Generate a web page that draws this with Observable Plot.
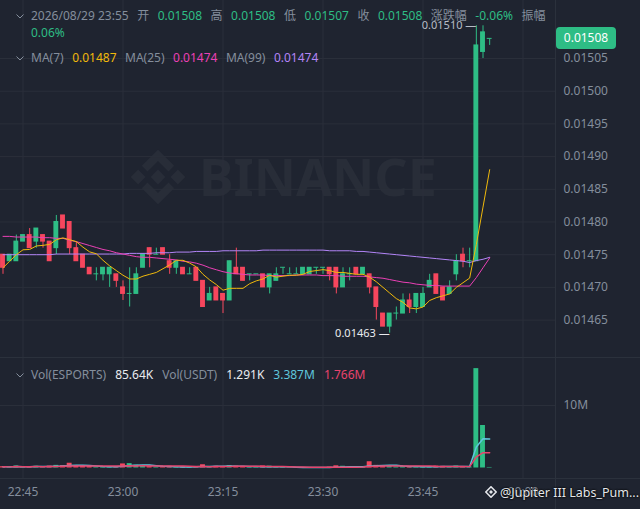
<!DOCTYPE html>
<html><head><meta charset="utf-8">
<script src="https://cdn.jsdelivr.net/npm/d3@7"></script>
<script src="https://cdn.jsdelivr.net/npm/@observablehq/plot@0.6"></script>
<style>
html,body{margin:0;padding:0;background:#1f2430;overflow:hidden}
#wrap{position:relative;width:640px;height:509px;overflow:hidden;background:#1f2430;font-family:"Noto Sans","Noto Sans CJK SC",sans-serif}
.abs{position:absolute}
.row{position:absolute;left:31px;font-size:12px;line-height:16px;white-space:nowrap;color:#848e9c}
.row span{margin-right:8.5px}
.vrow span{margin-right:9px}
.chev{position:absolute;left:16px}
.sepv{position:absolute;left:555px;top:0;width:1px;height:509px;background:#2b313c}
.seph{position:absolute;left:0;width:640px;height:1px;background:#2b313c}
#badge{position:absolute;left:556px;top:27px;width:60px;height:22px;border-radius:4px;background:#2ebd85;color:#fff;font-size:12px;line-height:22px;text-align:center}
#wmk{position:absolute;left:485px;top:485px;font-size:12.5px;line-height:16px;color:#e4e6ea;text-shadow:0 0 2px #000,0 0 2px #000;white-space:nowrap}
</style></head>
<body><div id="wrap">
<svg class="abs" style="left:0;top:0" width="640" height="509">
  <g transform="translate(127,146) scale(0.62)" fill="#282d38">
    <polygon points="50,38 62,50 50,62 38,50"/>
    <polygon points="18,38 30,50 18,62 6,50"/>
    <polygon points="82,38 94,50 82,62 70,50"/>
    <polygon points="50,6 76,32 67,41 50,24 33,41 24,32"/>
    <polygon points="50,94 76,68 67,59 50,76 33,59 24,68"/>
  </g>
  <text x="199" y="196" font-size="52" font-weight="700" fill="#282d38" font-family="Noto Sans, sans-serif">BINANCE</text>
</svg>
<div id="price" class="abs" style="left:0;top:0"></div>
<div id="vol" class="abs" style="left:0;top:357px"></div>
<div class="sepv"></div>
<div class="seph" style="top:357px"></div>
<div class="seph" style="top:478px"></div>
<div id="hdr1" class="row" style="top:8px"></div>
<div id="hdr2" class="row" style="top:25px"></div>
<div id="hdrMA" class="row" style="top:50px"></div>
<div id="hdrVol" class="row vrow" style="top:367px"></div>
<svg class="chev" style="top:14px" width="8" height="5"><polyline points="0.5,0.5 4,4 7.5,0.5" fill="none" stroke="#848e9c" stroke-width="1"/></svg>
<svg class="chev" style="top:56px" width="8" height="5"><polyline points="0.5,0.5 4,4 7.5,0.5" fill="none" stroke="#848e9c" stroke-width="1"/></svg>
<svg class="chev" style="top:373px" width="8" height="5"><polyline points="0.5,0.5 4,4 7.5,0.5" fill="none" stroke="#848e9c" stroke-width="1"/></svg>
<div id="badge"></div>
<div id="wmk"><svg width="12" height="12" style="vertical-align:-1px;margin-right:3px"><polygon points="6,0.8 11.2,6 6,11.2 0.8,6" fill="none" stroke="#e4e6ea" stroke-width="1.6"/><polygon points="6,4 8,6 6,8 4,6" fill="#e4e6ea"/></svg>@Jupiter III Labs_Pum...</div>
</div>
<script>
const times = ["22:42","22:43","22:44","22:45","22:46","22:47","22:48","22:49","22:50","22:51","22:52","22:53","22:54","22:55","22:56","22:57","22:58","22:59","23:00","23:01","23:02","23:03","23:04","23:05","23:06","23:07","23:08","23:09","23:10","23:11","23:12","23:13","23:14","23:15","23:16","23:17","23:18","23:19","23:20","23:21","23:22","23:23","23:24","23:25","23:26","23:27","23:28","23:29","23:30","23:31","23:32","23:33","23:34","23:35","23:36","23:37","23:38","23:39","23:40","23:41","23:42","23:43","23:44","23:45","23:46","23:47","23:48","23:49","23:50","23:51","23:52","23:53","23:54","23:55"];
const open = [0.01475,0.01474,0.01474,0.01477,0.01478,0.01477,0.01478,0.01477,0.01476,0.01481,0.01480,0.01476,0.01475,0.01473,0.01472,0.01472,0.01472,0.01472,0.01470,0.01469,0.01469,0.01473,0.01476,0.01475,0.01476,0.01474,0.01473,0.01473,0.01472,0.01473,0.01471,0.01468,0.01470,0.01469,0.01468,0.01473,0.01473,0.01472,0.01472,0.01472,0.01470,0.01471,0.01473,0.01472,0.01472,0.01472,0.01472,0.01473,0.01473,0.01473,0.01473,0.01470,0.01472,0.01473,0.01472,0.01472,0.01470,0.01466,0.01464,0.01466,0.01466,0.01468,0.01467,0.01467,0.01470,0.01472,0.01470,0.01469,0.01472,0.01475,0.01474,0.01474,0.01506,0.01508];
const high = [0.01475,0.01475,0.01478,0.01478,0.01479,0.01479,0.01478,0.01477,0.01481,0.01481,0.01480,0.01477,0.01475,0.01473,0.01473,0.01473,0.01473,0.01472,0.01471,0.01473,0.01473,0.01475,0.01476,0.01476,0.01476,0.01475,0.01474,0.01473,0.01473,0.01473,0.01471,0.01470,0.01470,0.01469,0.01474,0.01476,0.01473,0.01472,0.01472,0.01472,0.01472,0.01473,0.01473,0.01473,0.01473,0.01473,0.01473,0.01473,0.01473,0.01473,0.01473,0.01473,0.01473,0.01473,0.01473,0.01472,0.01470,0.01466,0.01466,0.01467,0.01469,0.01469,0.01469,0.01470,0.01472,0.01472,0.01470,0.01471,0.01475,0.01476,0.01476,0.01510,0.01510,0.01508];
const low = [0.01472,0.01474,0.01474,0.01477,0.01476,0.01476,0.01476,0.01474,0.01475,0.01479,0.01475,0.01474,0.01473,0.01472,0.01471,0.01471,0.01470,0.01470,0.01468,0.01467,0.01469,0.01473,0.01473,0.01475,0.01475,0.01472,0.01472,0.01472,0.01472,0.01471,0.01467,0.01468,0.01468,0.01466,0.01468,0.01472,0.01471,0.01471,0.01472,0.01470,0.01469,0.01471,0.01472,0.01472,0.01472,0.01472,0.01472,0.01472,0.01472,0.01471,0.01469,0.01470,0.01471,0.01472,0.01472,0.01469,0.01465,0.01464,0.01463,0.01465,0.01466,0.01466,0.01466,0.01467,0.01470,0.01469,0.01468,0.01469,0.01471,0.01473,0.01473,0.01474,0.01505,0.01507];
const close = [0.01473,0.01475,0.01477,0.01478,0.01476,0.01479,0.01477,0.01474,0.01480,0.01479,0.01476,0.01474,0.01473,0.01472,0.01472,0.01473,0.01473,0.01471,0.01469,0.01469,0.01472,0.01475,0.01475,0.01475,0.01475,0.01473,0.01474,0.01472,0.01472,0.01471,0.01467,0.01469,0.01468,0.01468,0.01474,0.01472,0.01471,0.01472,0.01472,0.01470,0.01472,0.01472,0.01473,0.01472,0.01472,0.01473,0.01473,0.01473,0.01473,0.01472,0.01470,0.01472,0.01472,0.01472,0.01473,0.01470,0.01467,0.01464,0.01466,0.01466,0.01468,0.01467,0.01469,0.01469,0.01471,0.01469,0.01468,0.01470,0.01474,0.01474,0.01474,0.01507,0.01509,0.01508];
const volume = [210000,150000,320000,180000,240000,280000,160000,300000,420000,380000,760000,260000,300000,240000,120000,200000,230000,180000,650000,700000,450000,380000,210000,120000,160000,260000,150000,180000,110000,220000,520000,240000,280000,230000,380000,300000,260000,100000,90000,320000,300000,180000,80000,60000,50000,70000,90000,60000,60000,140000,350000,280000,120000,150000,130000,1000000,420000,380000,300000,160000,260000,180000,240000,200000,170000,300000,260000,180000,320000,200000,150000,15900000,6800000,85640];
const ma25 = [0.014778,0.014778,0.014777,0.014777,0.014777,0.014777,0.014776,0.014776,0.014775,0.014775,0.014772,0.014770,0.014767,0.014764,0.014761,0.014758,0.014756,0.014753,0.014751,0.014749,0.014747,0.014746,0.014746,0.014745,0.014744,0.014743,0.014742,0.014740,0.014739,0.014737,0.014734,0.014730,0.014727,0.014724,0.014722,0.014721,0.014720,0.014719,0.014719,0.014719,0.014718,0.014718,0.014718,0.014718,0.014719,0.014719,0.014719,0.014719,0.014718,0.014718,0.014718,0.014717,0.014717,0.014717,0.014717,0.014716,0.014715,0.014714,0.014712,0.014710,0.014708,0.014707,0.014705,0.014704,0.014703,0.014703,0.014702,0.014702,0.014702,0.014702,0.014702,0.014715,0.014730,0.014745];
const ma99 = [0.014750,0.014750,0.014750,0.014750,0.014750,0.014750,0.014750,0.014750,0.014751,0.014751,0.014751,0.014751,0.014751,0.014751,0.014751,0.014751,0.014751,0.014751,0.014751,0.014752,0.014752,0.014752,0.014752,0.014753,0.014753,0.014753,0.014754,0.014754,0.014754,0.014755,0.014755,0.014755,0.014755,0.014756,0.014756,0.014756,0.014756,0.014756,0.014756,0.014757,0.014757,0.014757,0.014757,0.014757,0.014757,0.014757,0.014757,0.014757,0.014757,0.014756,0.014756,0.014756,0.014756,0.014755,0.014755,0.014754,0.014753,0.014752,0.014751,0.014750,0.014749,0.014748,0.014747,0.014746,0.014745,0.014744,0.014743,0.014742,0.014741,0.014740,0.014738,0.014741,0.014743,0.014746];
const priceTicks = [0.01465,0.01470,0.01475,0.01480,0.01485,0.01490,0.01495,0.01500,0.01505];
const timeTickLabels = ["22:45","23:00","23:15","23:30","23:45","00:00"];
const volTicks = [10000000];
const volTickLabels = ["10M"];
const hdrDate = "2026/08/29 23:55";
const hdrLabels = ["开","高","低","收"];
const hdrValues = ["0.01508","0.01508","0.01507","0.01508"];
const hdrChange = ["涨跌幅","-0.06%"];
const hdrAmp = ["振幅","0.06%"];
const maLabels = ["MA(7)","MA(25)","MA(99)"];
const maValues = ["0.01487","0.01474","0.01474"];
const volLabels = ["Vol(ESPORTS)","Vol(USDT)"];
const volValues = ["85.64K","1.291K","3.387M","1.766M"];
const lastPrice = "0.01508";

const green = "#2ebd85", red = "#f6465d", grid = "#2a2f3a", axisCol = "#848e9c";
const maCols = ["#f0b90b","#eb40b5","#b385f8"];
const volMaCols = ["#5fc6dc","#e8436d"];

const toDate = s => { const [h, m] = s.split(":").map(Number); return new Date(Date.UTC(2026, 7, h < 12 ? 30 : 29, h, m)); };
const candles = times.map((s, i) => ({t: toDate(s), open: open[i], high: high[i], low: low[i], close: close[i], vol: volume[i], ma25: ma25[i], ma99: ma99[i]}));
const timeTicks = timeTickLabels.map(toDate);
const timeLabelOf = new Map(timeTicks.map((d, i) => [+d, timeTickLabels[i]]));
const volLabelOf = new Map(volTicks.map((d, i) => [d, volTickLabels[i]]));
const colorOf = d => d.close >= d.open ? green : red;
const half = 22000;
const bx1 = d => new Date(+d.t - half), bx2 = d => new Date(+d.t + half);
const xDomain = [new Date(Date.UTC(2026,7,29,22,41,37,500)), new Date(Date.UTC(2026,7,30,0,4,52,500))];
const hiC = candles.reduce((a, b) => b.high > a.high ? b : a);
const loC = candles.reduce((a, b) => b.low < a.low ? b : a);
const font = "Noto Sans, Noto Sans CJK SC, sans-serif";

const price = Plot.plot({
  width: 640, height: 357, marginTop: 0, marginBottom: 0, marginLeft: 0, marginRight: 85,
  style: {background: "transparent", color: axisCol, fontSize: "12px", fontFamily: font, overflow: "visible"},
  x: {type: "utc", domain: xDomain, axis: null},
  y: {domain: [0.0145928, 0.0151387], axis: null},
  color: {type: "identity"},
  marks: [
    Plot.gridY(priceTicks, {stroke: grid, strokeOpacity: 1}),
    Plot.ruleX(timeTicks, {stroke: grid, strokeOpacity: 1}),
    Plot.axisY(priceTicks, {anchor: "right", tickSize: 0, tickPadding: 8, tickFormat: d => d.toFixed(5), fill: axisCol, fontSize: 12, label: null}),
    Plot.ruleX(candles, {x: "t", y1: "low", y2: "high", stroke: colorOf, strokeWidth: 1}),
    Plot.rect(candles, {x1: bx1, x2: bx2, y1: "open", y2: "close", fill: colorOf, insetTop: -0.5, insetBottom: -0.5}),
    Plot.line(candles, {x: "t", y: "ma99", stroke: maCols[2], strokeWidth: 1}),
    Plot.line(candles, {x: "t", y: "ma25", stroke: maCols[1], strokeWidth: 1}),
    Plot.lineY(candles, Plot.windowY({k: 7, anchor: "end", strict: false}, {x: "t", y: "close", stroke: maCols[0], strokeWidth: 1})),
    Plot.text([hiC], {x: "t", y: "high", text: d => d.high.toFixed(5) + " —", textAnchor: "end", fill: "#b7bdc6", fontSize: 11}),
    Plot.text([loC], {x: "t", y: "low", text: d => d.low.toFixed(5) + " —", textAnchor: "end", fill: "#eaecef", fontSize: 11})
  ]
});
document.getElementById("price").appendChild(price);

const vol = Plot.plot({
  width: 640, height: 152, marginTop: 0, marginBottom: 41.5, marginLeft: 0, marginRight: 85,
  style: {background: "transparent", color: axisCol, fontSize: "12px", fontFamily: font, overflow: "visible"},
  x: {type: "utc", domain: xDomain, axis: null},
  y: {domain: [0, 17680000], axis: null},
  color: {type: "identity"},
  marks: [
    Plot.gridY(volTicks, {stroke: grid, strokeOpacity: 1}),
    Plot.ruleX(timeTicks, {stroke: grid, strokeOpacity: 1, insetBottom: -10.5}),
    Plot.axisY(volTicks, {anchor: "right", tickSize: 0, tickPadding: 8, tickFormat: d => volLabelOf.get(d), fill: axisCol, fontSize: 12, label: null}),
    Plot.axisX(timeTicks, {anchor: "bottom", tickSize: 0, tickPadding: 19, tickFormat: d => timeLabelOf.get(+d), fill: axisCol, fontSize: 12, label: null}),
    Plot.rect(candles, {x1: bx1, x2: bx2, y1: 0, y2: "vol", fill: colorOf}),
    Plot.lineY(candles, Plot.windowY({k: 5, anchor: "end", strict: false}, {x: "t", y: "vol", stroke: volMaCols[0], strokeWidth: 1.5})),
    Plot.lineY(candles, Plot.windowY({k: 10, anchor: "end", strict: false}, {x: "t", y: "vol", stroke: volMaCols[1], strokeWidth: 1.5}))
  ]
});
document.getElementById("vol").appendChild(vol);

const span = (t, c) => `<span${c ? ` style="color:${c}"` : ""}>${t}</span>`;
let h1 = span(hdrDate);
hdrLabels.forEach((l, i) => { h1 += span(l) + span(hdrValues[i], green); });
h1 += span(hdrChange[0]) + span(hdrChange[1], green) + span(hdrAmp[0]);
document.getElementById("hdr1").innerHTML = h1;
document.getElementById("hdr2").innerHTML = span(hdrAmp[1], green);
document.getElementById("hdrMA").innerHTML = maLabels.map((l, i) => span(l) + span(maValues[i], maCols[i])).join("");
document.getElementById("hdrVol").innerHTML = span(volLabels[0]) + span(volValues[0], "#eaecef") + span(volLabels[1]) + span(volValues[1], "#eaecef") + span(volValues[2], volMaCols[0]) + span(volValues[3], volMaCols[1]);
document.getElementById("badge").textContent = lastPrice;
</script>
</body></html>
